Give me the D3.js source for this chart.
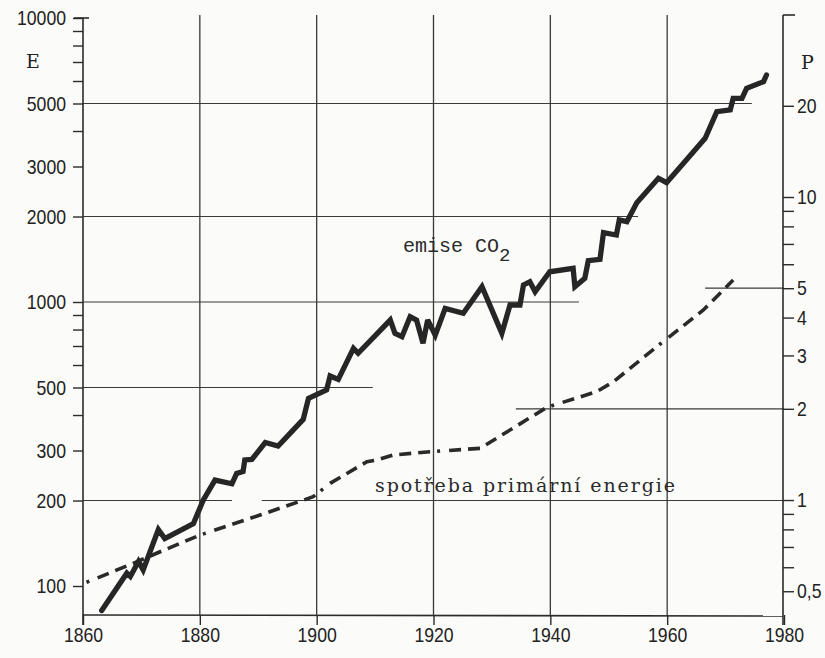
<!DOCTYPE html>
<html>
<head>
<meta charset="utf-8">
<script src="https://cdn.jsdelivr.net/npm/d3@7"></script>
<style>
  html, body { margin: 0; padding: 0; background: #fbfbf9; }
  svg { display: block; }
</style>
</head>
<body>
<svg id="chart" width="825" height="658"></svg>
<script>
// ---------- data ----------
const co2Years = [1863.2, 1867.5, 1868.1, 1869.5, 1870.3, 1872.9, 1874.0, 1878.9, 1880.6, 1882.6,
  1885.5, 1886.3, 1887.4, 1887.7, 1888.9, 1891.2, 1893.4, 1897.7, 1898.6, 1901.7,
  1902.3, 1903.7, 1906.3, 1907.1, 1912.6, 1913.4, 1914.6, 1916.0, 1917.1, 1918.2,
  1919.0, 1920.3, 1922.0, 1925.1, 1928.3, 1931.7, 1933.1, 1934.8, 1935.4, 1936.5,
  1937.4, 1939.9, 1943.9, 1944.2, 1945.9, 1946.5, 1948.5, 1949.1, 1951.3, 1951.8,
  1953.1, 1954.8, 1958.5, 1959.9, 1966.5, 1968.5, 1970.8, 1971.3, 1972.8, 1973.6,
  1976.5, 1977.0];
const co2Values = [82, 111, 108, 122, 114, 158, 147, 166, 201, 236,
  229, 249, 253, 278, 279, 320, 311, 386, 458, 490,
  549, 534, 687, 660, 864, 776, 755, 888, 864, 716,
  864, 765, 950, 913, 1132, 776, 976, 976, 1148, 1179,
  1087, 1278, 1314, 1132, 1212, 1398, 1414, 1754, 1721, 1944,
  1918, 2237, 2727, 2631, 3771, 4679, 4745, 5216, 5216, 5655,
  5968, 6300];

const energyYears = [1860.6, 1868.6, 1873.2, 1880.0, 1890.3, 1899.4, 1902.3, 1908.6, 1910.3, 1913.1,
  1919.4, 1928.0, 1939.4, 1947.9, 1950.8, 1959.3, 1966.2, 1971.3];
const energyValues = [0.535, 0.618, 0.675, 0.766, 0.892, 1.025, 1.135, 1.338, 1.355, 1.408,
  1.443, 1.481, 2.022, 2.277, 2.457, 3.331, 4.238, 5.322];

const xTickYears = [1860, 1880, 1900, 1920, 1940, 1960, 1980];
const gridYears = [1880, 1900, 1920, 1940, 1960];

const leftMajorTicks = [100, 200, 300, 500, 1000, 2000, 3000, 5000, 10000];
const leftMinorTicks = [400, 600, 700, 800, 900, 4000, 6000, 7000, 8000, 9000];
const rightMajorTicks = [0.5, 1, 2, 3, 4, 5, 10, 20];
const rightTickLabels = ["0,5", "1", "2", "3", "4", "5", "10", "20"];
const rightMinorTicks = [0.6, 0.7, 0.8, 0.9, 6, 7, 8, 9];

// horizontal grid segments: [value, fromYear, toYear]
const leftGridSegments = [[5000, 1860, 1974.5], [2000, 1860, 1955.0], [1000, 1860, 1944.9],
  [500, 1860, 1909.6], [200, 1860, 1885.5], [200, 1890.6, 1980]];
const rightGridSegments = [[5, 1966.5, 1980], [2, 1934.1, 1980]];

const leftAxisTitle = "E";
const rightAxisTitle = "P";
const co2Label = "emise CO";
const co2Sub = "2";
const energyLabel = "spotřeba primární energie";

// ---------- scales ----------
const svg = d3.select("#chart");
const x = d3.scaleLinear().domain([1860, 1980]).range([83, 784]);
const yL = d3.scaleLog().domain([79.06, 10000]).range([615, 18]);
const yR = d3.scaleLog().domain([0.4174, 38.97]).range([615, 18]);

const ink = "#2b2b2b";
const numFont = "'Liberation Sans', Arial, sans-serif";
const serifFont = "'DejaVu Serif', 'Liberation Serif', serif";

// vertical grid lines
svg.append("g").selectAll("line").data(gridYears).join("line")
  .attr("x1", d => x(d)).attr("x2", d => x(d))
  .attr("y1", 15).attr("y2", 615)
  .attr("stroke", "#3a3a3a").attr("stroke-width", 1.3);

// horizontal grid segments
svg.append("g").selectAll("line").data(leftGridSegments).join("line")
  .attr("x1", d => x(d[1])).attr("x2", d => x(d[2]))
  .attr("y1", d => yL(d[0])).attr("y2", d => yL(d[0]))
  .attr("stroke", "#3a3a3a").attr("stroke-width", 1.2);
svg.append("g").selectAll("line").data(rightGridSegments).join("line")
  .attr("x1", d => x(d[1])).attr("x2", d => x(d[2]))
  .attr("y1", d => yR(d[0])).attr("y2", d => yR(d[0]))
  .attr("stroke", "#3a3a3a").attr("stroke-width", 1.2);

// axes
const leftAxis = d3.axisLeft(yL)
  .tickValues(leftMajorTicks.concat(leftMinorTicks))
  .tickFormat(d => leftMajorTicks.includes(d) ? String(d) : "")
  .tickSize(10).tickPadding(7).tickSizeOuter(0);
const gL = svg.append("g").attr("transform", "translate(83,0)").call(leftAxis);

const rightAxis = d3.axisRight(yR)
  .tickValues(rightMajorTicks.concat(rightMinorTicks))
  .tickFormat(d => { const i = rightMajorTicks.indexOf(d); return i >= 0 ? rightTickLabels[i] : ""; })
  .tickSize(11).tickPadding(3).tickSizeOuter(0);
const gR = svg.append("g").attr("transform", "translate(783,0)").call(rightAxis);

const bottomAxis = d3.axisBottom(x)
  .tickValues(xTickYears).tickFormat(d3.format("d"))
  .tickSize(10).tickPadding(2).tickSizeOuter(0);
const gB = svg.append("g").attr("transform", "translate(0,615)").call(bottomAxis);

[gL, gR, gB].forEach(g => {
  g.select(".domain").remove();
  g.selectAll(".tick line").attr("stroke", ink).attr("stroke-width", 1.4);
  g.selectAll(".tick text").attr("fill", "#222").attr("font-family", numFont).attr("font-size", 21)
    .each(function () {
      const t = d3.select(this);
      if (!t.text()) return;
      const w = this.getComputedTextLength();
      t.attr("textLength", w * 0.84).attr("lengthAdjust", "spacingAndGlyphs");
    });
});

// axis lines with top hooks
const axisPaths = [
  [[74, yL(10000)], [89, yL(10000)]],
  [[83, yL(10000)], [83, 625]],
  [[783, 15], [795, 15]],
  [[783, 15], [783, 625]],
  [[83, 615], [783, 616]]
];
svg.append("g").selectAll("path").data(axisPaths).join("path")
  .attr("d", d => d3.line()(d))
  .attr("stroke", ink).attr("stroke-width", 1.6).attr("fill", "none");

// axis titles
svg.append("text").attr("x", 26).attr("y", 68).text(leftAxisTitle)
  .attr("font-family", serifFont).attr("font-size", 19).attr("fill", "#222");
svg.append("text").attr("x", 801).attr("y", 69).text(rightAxisTitle)
  .attr("font-family", serifFont).attr("font-size", 19).attr("fill", "#222");

// energy (dashed)
svg.append("path")
  .datum(energyYears.map((d, i) => [d, energyValues[i]]))
  .attr("d", d3.line().x(d => x(d[0])).y(d => yR(d[1])))
  .attr("fill", "none").attr("stroke", "#2a2a2a").attr("stroke-width", 3.6)
  .attr("stroke-dasharray", "3,9,12,7,12,7,12,7,12,7,12,7,12,7");

// CO2 (thick solid)
svg.append("path")
  .datum(co2Years.map((d, i) => [d, co2Values[i]]))
  .attr("d", d3.line().x(d => x(d[0])).y(d => yL(d[1])))
  .attr("fill", "none").attr("stroke", "#262626").attr("stroke-width", 5.3)
  .attr("stroke-linejoin", "miter").attr("stroke-miterlimit", 3).attr("stroke-linecap", "round");

// labels
const co2Text = svg.append("text").attr("x", 403).attr("y", 252)
  .attr("font-family", "'Liberation Mono', 'DejaVu Sans Mono', monospace")
  .attr("font-size", 20).attr("fill", "#2a2a2a");
co2Text.append("tspan").text(co2Label);
co2Text.append("tspan").text(co2Sub).attr("dy", 9).attr("font-size", 19);

svg.append("text").attr("x", 375).attr("y", 492)
  .attr("font-family", serifFont)
  .attr("font-size", 19).attr("fill", "#2a2a2a")
  .attr("textLength", 300).attr("lengthAdjust", "spacing")
  .text(energyLabel);
</script>
</body>
</html>
